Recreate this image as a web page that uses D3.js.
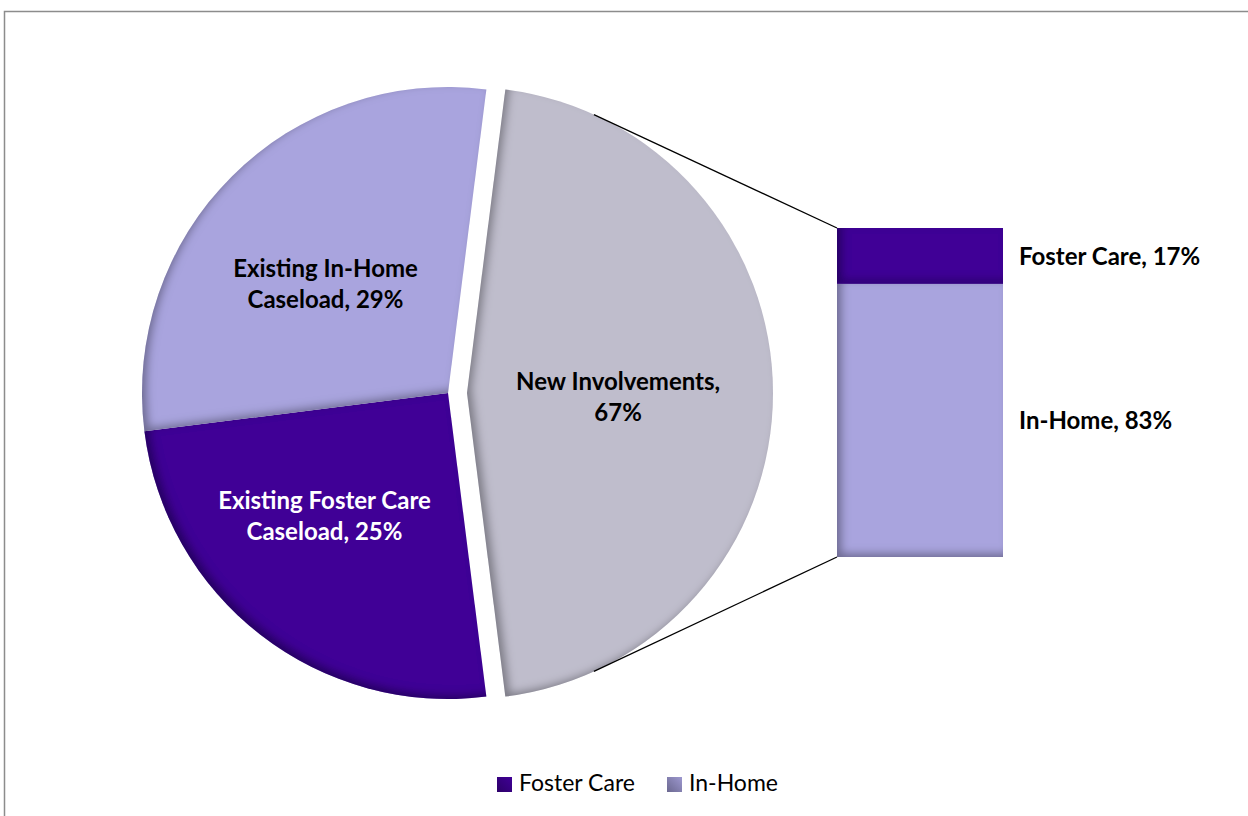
<!DOCTYPE html>
<html>
<head>
<meta charset="utf-8">
<script src="https://cdn.jsdelivr.net/npm/d3@7"></script>
<style>
    body { margin: 0; background: #fff; }
    text { font-family: Lato, "Open Sans", sans-serif; }
</style>
</head>
<body>
<script>
// Pie slices (share of the circle) and their label texts
const sliceNames = ["New Involvements", "Existing Foster Care Caseload", "Existing In-Home Caseload"];
const sliceValues = [46, 25, 29];
const sliceLabels = [
    ["New Involvements,", "67%"],
    ["Existing Foster Care", "Caseload, 25%"],
    ["Existing In-Home", "Caseload, 29%"]
];
// Breakdown bar of "New Involvements"
const barCategories = ["Foster Care", "In-Home"];
const barValues = [17, 83];
const legendItems = ["Foster Care", "In-Home"];

const width = 1248;
const height = 816;

const colors = {
    "New Involvements": "#bfbdcc",
    "Existing Foster Care Caseload": "#400096",
    "Existing In-Home Caseload": "#a9a4de",
    "Foster Care": "#400096",
    "In-Home": "#a9a4de"
};

const svg = d3.select("body").append("svg")
    .attr("width", width)
    .attr("height", height);

const defs = svg.append("defs");

// inner shadow, darker along left and bottom edges
const inset = defs.append("filter")
    .attr("id", "inset")
    .attr("x", "-10%").attr("y", "-10%")
    .attr("width", "120%").attr("height", "120%");
inset.append("feFlood").attr("flood-color", "#000").attr("flood-opacity", 0.6).attr("result", "c");
inset.append("feComposite").attr("in", "c").attr("in2", "SourceAlpha").attr("operator", "out").attr("result", "outside");
inset.append("feOffset").attr("in", "outside").attr("dx", 5).attr("dy", -4).attr("result", "shifted");
inset.append("feGaussianBlur").attr("in", "shifted").attr("stdDeviation", 4).attr("result", "blurred");
inset.append("feComposite").attr("in", "blurred").attr("in2", "SourceAlpha").attr("operator", "in").attr("result", "shadow");
const merge = inset.append("feMerge");
merge.append("feMergeNode").attr("in", "SourceGraphic");
merge.append("feMergeNode").attr("in", "shadow");

// legend gradients
function addGrad(id, c1, c2) {
    const g = defs.append("linearGradient").attr("id", id)
        .attr("x1", 0).attr("y1", 1).attr("x2", 1).attr("y2", 0);
    g.append("stop").attr("offset", "0%").attr("stop-color", c1);
    g.append("stop").attr("offset", "100%").attr("stop-color", c2);
}
addGrad("lg0", "#2c0068", "#400096");
addGrad("lg1", "#6b6890", "#9d98cf");

// chart frame
svg.append("rect")
    .attr("x", 4.5).attr("y", 11.5)
    .attr("width", 1300).attr("height", 900)
    .attr("fill", "none")
    .attr("stroke", "#8c8c8c")
    .attr("stroke-width", 1.5);

// Pie
const cx = 448, cy = 393, radius = 306, explode = 19;
const total = d3.sum(sliceValues);
const newShare = sliceValues[0] / total;

const pie = d3.pie()
    .sort(null)
    .startAngle(Math.PI / 2 - Math.PI * newShare)
    .endAngle(Math.PI / 2 - Math.PI * newShare + 2 * Math.PI);

const arcs = pie(sliceValues);
const arc = d3.arc().innerRadius(0).outerRadius(radius);
const labelArc = d3.arc().innerRadius(radius * 0.52).outerRadius(radius * 0.52);
// small nudges to sit the labels where Excel put them
const labelNudge = [[-8, 0], [-26, -7], [-10, 0]];

const slice = svg.append("g")
    .selectAll("g")
    .data(arcs)
    .join("g")
    .attr("transform", (d, i) => {
        if (i !== 0) return `translate(${cx},${cy})`;
        const mid = (d.startAngle + d.endAngle) / 2;
        return `translate(${cx + explode * Math.sin(mid)},${cy - explode * Math.cos(mid)})`;
    });

slice.append("path")
    .attr("d", arc)
    .attr("fill", (d, i) => colors[sliceNames[i]])
    .attr("filter", "url(#inset)");

slice.append("text")
    .attr("text-anchor", "middle")
    .attr("font-weight", "bold")
    .attr("font-size", 24)
    .attr("fill", (d, i) => i === 1 ? "#fff" : "#000")
    .attr("transform", (d, i) => {
        const [x, y] = labelArc.centroid(d);
        return `translate(${x + labelNudge[i][0]},${y + labelNudge[i][1]})`;
    })
    .selectAll("tspan")
    .data((d, i) => sliceLabels[i])
    .join("tspan")
    .attr("x", 0)
    .attr("y", (t, j) => -3 + j * 31)
    .text(t => t);

// Bar of the exploded slice
const barX = 837, barW = 166;
const y = d3.scaleLinear().domain([0, d3.sum(barValues)]).range([228, 557]);
const stacked = [];
let acc = 0;
barValues.forEach((v, i) => { stacked.push({ name: barCategories[i], v0: acc, v1: acc + v, value: v }); acc += v; });

// connector lines from the exploded slice to the bar corners
const newArc = arcs[0];
const midA = (newArc.startAngle + newArc.endAngle) / 2;
const ecx = cx + explode * Math.sin(midA), ecy = cy - explode * Math.cos(midA);
const connAngle = 65.5 * Math.PI / 180;
const conn = [
    { a: midA - connAngle, ty: y(0) },
    { a: midA + connAngle, ty: y(d3.sum(barValues)) }
];
svg.append("g")
    .selectAll("line")
    .data(conn)
    .join("line")
    .attr("x1", d => ecx + radius * Math.sin(d.a))
    .attr("y1", d => ecy - radius * Math.cos(d.a))
    .attr("x2", barX)
    .attr("y2", d => d.ty)
    .attr("stroke", "#000")
    .attr("stroke-width", 1.3);

const bar = svg.append("g");
bar.selectAll("rect")
    .data(stacked)
    .join("rect")
    .attr("x", barX)
    .attr("y", d => y(d.v0))
    .attr("width", barW)
    .attr("height", d => y(d.v1) - y(d.v0))
    .attr("fill", d => colors[d.name])
    .attr("filter", "url(#inset)");

bar.selectAll("text")
    .data(stacked)
    .join("text")
    .attr("x", barX + barW + 16)
    .attr("y", d => (y(d.v0) + y(d.v1)) / 2 + 9)
    .attr("font-weight", "bold")
    .attr("font-size", 24)
    .text(d => `${d.name}, ${d.value}%`);

// Legend
const legend = svg.append("g").attr("transform", "translate(497,777)");
const legendX = [0, 170];
const lg = legend.selectAll("g")
    .data(legendItems)
    .join("g")
    .attr("transform", (d, i) => `translate(${legendX[i]},0)`);
lg.append("rect")
    .attr("width", 15).attr("height", 15)
    .attr("fill", (d, i) => `url(#lg${i})`);
lg.append("text")
    .attr("x", 22).attr("y", 14)
    .attr("font-size", 23)
    .text(d => d);
</script>
</body>
</html>
